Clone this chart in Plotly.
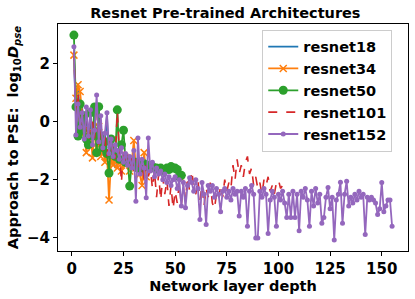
import plotly.graph_objects as go

r18 = [2.2, 0.3, 1.3, -0.2, 0.5, -0.6, 0.2, -0.5, 0.0, -0.8, -0.3, -1.0, -0.6, -0.9,
       -1.1, -0.7, 0.2, -1.3, -0.9, -1.2, -1.6]

r34 = [2.28, 0.8, 1.26, 1.03, 0.2, -0.4, -1.07, -0.5, -0.3, -1.25, -0.18, -0.9, -0.17,
       -1.2, -0.8, -1.4, -1.1, -2.7, -1.3, -1.5, -1.2, -1.6, -1.3, -1.7, -1.4, -1.5,
       -1.3, -1.7, -1.4, -0.65, -1.6, -1.5, -1.8, -2.2, -1.07, -1.9]

r50 = [2.97, 0.5, -0.5, 0.6, -0.3, 0.2, -0.6, -0.8, 0.3, -0.5, 0.5, -1.07, 0.51, -0.5,
       -0.9, -0.7, -1.1, -1.77, -0.6, -1.0, -1.2, 0.4, -1.3, -0.8, -0.3, -1.4, -1.3,
       -2.22, -1.4, -1.5, -1.4, -1.6, -1.5, -1.6, -1.45, -1.55, -1.5, -1.6, -1.55,
       -1.6, -1.6, -1.65, -1.6, -1.7, -1.65, -1.6, -1.65, -1.55, -1.6, -1.6, -1.65,
       -1.9, -1.85]

r101 = [2.4, 0.2, 1.0, -0.3, 0.4, -0.5, 0.1, -0.7, -0.2, 0.0, -0.6, 0.6, -0.8, -0.3,
        -1.0, -0.5, -1.2, -0.6, -1.1, -0.8, -1.3, 0.35, -1.0, -2.1, -0.9, -1.4, -1.1,
        -1.6, -1.2, -1.7, -1.3, -1.5, -1.8, -1.4, -2.0, -1.5, -1.9, -1.6, -2.3, -1.7,
        -2.6, -1.8, -2.7, -1.9, -2.5, -2.0, -2.9, -2.2, -3.0, -2.4, -2.8, -2.1, -2.9,
        -2.0, -2.7, -1.9, -2.4, -1.7, -2.2, -2.5, -2.0, -2.7, -2.2, -2.9, -2.3, -2.6,
        -2.1, -2.8, -3.0, -2.5, -2.7, -2.2, -2.6, -2.0, -2.4, -2.1, -2.3, -1.5, -2.0,
        -1.3, -1.8, -1.5, -1.9, -1.4, -1.2, -1.8, -1.6, -2.2, -1.9, -2.3, -2.1, -2.5,
        -2.0, -2.2, -1.9, -2.4, -2.2, -2.5, -2.1, -2.0, -2.3, -2.2, -2.3, -2.4]

r152 = [2.57, -0.46, 0.6, -0.2, 0.3, -0.6, 0.5, -0.5, 0.4, -0.8, -0.3, 0.91, -0.7, 0.2,
        -0.9, -0.4, 0.3, -1.1, -0.6, -1.2, -0.8, -1.0, -1.3, -0.9, -1.4, -1.1, -1.5,
        -1.2, -1.6, -1.0, -2.74, -0.57, -1.8, -1.3, -1.6, -2.62, -0.57, -1.7, -1.4,
        -1.9, -1.6, -1.8, -1.7, -2.0, -1.8, -2.1, -1.9, -2.2, -2.0, -1.9, -2.3, -2.0,
        -2.9, -2.1, -2.96, -2.2, -1.93, -2.1, -2.4, -2.0, -2.3, -3.37, -2.1, -2.5,
        -3.54, -2.2, -2.4, -2.2, -2.6, -2.3, -2.5, -3.1, -2.4, -2.3, -2.6, -2.4, -2.7,
        -2.3, -2.5, -2.4, -3.25, -2.4, -2.6, -2.3, -3.6, -2.4, -2.2, -2.5, -4.0, -4.0,
        -2.4, -2.6, -2.3, -2.5, -3.85, -2.7, -2.4, -2.6, -3.6, -2.5, -2.7, -2.4, -2.8,
        -3.3, -2.5, -3.3, -2.4, -3.3, -2.5, -3.75, -2.4, -2.6, -2.3, -2.7, -3.6, -2.4,
        -2.9, -2.3, -2.8, -2.5, -3.5, -3.3, -2.6, -2.27, -3.0, -2.6, -4.07, -2.7, -2.5,
        -2.09, -3.5, -2.5, -2.05, -2.9, -2.6, -2.8, -2.5, -2.7, -2.4, -2.6, -2.5, -3.88,
        -2.6, -2.7, -2.6, -2.7, -2.8, -3.2, -3.0, -2.1, -3.1, -2.9, -2.7, -2.7, -3.6]

names = ["resnet18", "resnet34", "resnet50", "resnet101", "resnet152"]
x_ticks = [0, 25, 50, 75, 100, 125, 150]
y_ticks = [-4, -2, 0, 2]

fig = go.Figure()
fig.add_trace(go.Scatter(x=list(range(1, len(r18) + 1)), y=r18, name=names[0],
                         mode="lines", line=dict(color="#1f77b4", width=1.8)))
fig.add_trace(go.Scatter(x=list(range(1, len(r34) + 1)), y=r34, name=names[1],
                         mode="lines+markers", line=dict(color="#ff7f0e", width=1.8),
                         marker=dict(symbol="x-thin", size=7,
                                     line=dict(color="#ff7f0e", width=1.5))))
fig.add_trace(go.Scatter(x=list(range(1, len(r50) + 1)), y=r50, name=names[2],
                         mode="lines+markers", line=dict(color="#2ca02c", width=1.8),
                         marker=dict(symbol="circle", size=9, color="#2ca02c")))
fig.add_trace(go.Scatter(x=list(range(1, len(r101) + 1)), y=r101, name=names[3],
                         mode="lines", line=dict(color="#d62728", width=1.6, dash="dash")))
fig.add_trace(go.Scatter(x=list(range(1, len(r152) + 1)), y=r152, name=names[4],
                         mode="lines+markers", line=dict(color="#9467bd", width=1.8),
                         marker=dict(symbol="circle", size=5, color="#9467bd")))

fig.update_layout(
    width=415, height=299,
    margin=dict(l=58, r=7, t=24, b=48, autoexpand=False),
    paper_bgcolor="white", plot_bgcolor="white",
    font=dict(family="DejaVu Sans", size=12, color="black"),
    title=dict(text="<b>Resnet Pre-trained Architectures</b>", x=0.543, xanchor="center",
               y=0.958, yanchor="middle", font=dict(size=14.5)),
    showlegend=True,
    legend=dict(x=0.955, xanchor="right", y=0.975, yanchor="top",
                bgcolor="rgba(255,255,255,0.85)", bordercolor="#cccccc", borderwidth=1,
                font=dict(size=14.5, weight="bold"), tracegroupgap=0, itemwidth=30),
)
fig.update_xaxes(range=[-6.7, 162.7], tickvals=x_ticks, showgrid=False, zeroline=False,
                 showline=True, linecolor="black", linewidth=1, mirror=True,
                 ticks="outside", ticklen=4, tickcolor="black", automargin=False,
                 tickfont=dict(size=15, weight="bold"),
                 title=dict(text="<b>Network layer depth</b>", font=dict(size=14.5), standoff=1))
fig.update_yaxes(range=[-4.45, 3.35], tickvals=y_ticks,
                 ticktext=["\u22124", "\u22122", "0", "2"],
                 showgrid=False, zeroline=False, automargin=False,
                 showline=True, linecolor="black", linewidth=1, mirror=True,
                 ticks="outside", ticklen=4, tickcolor="black",
                 tickfont=dict(size=15, weight="bold"),
                 title=dict(text="<b>Approach to PSE:  log<sub>10</sub><i>D<sub>pse</sub></i></b>",
                            font=dict(size=14.5), standoff=4))

fig.write_html("out.html", config={"displayModeBar": False},
               post_script="document.body.style.margin='0';")
